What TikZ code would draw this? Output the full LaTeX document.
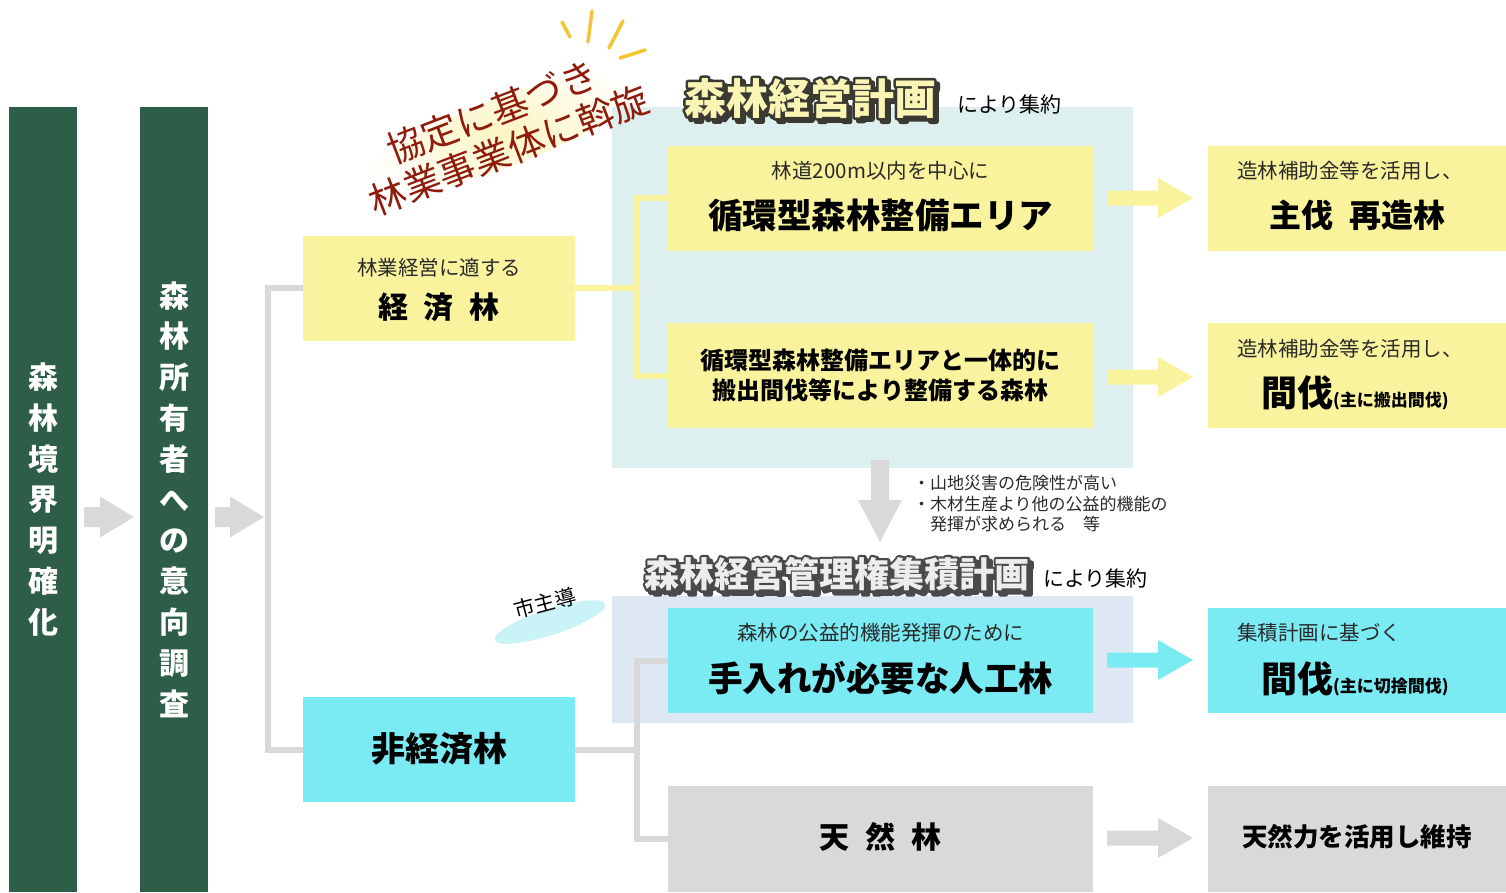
\documentclass[tikz,border=0pt]{standalone}
\usepackage{fontspec}
\setmainfont{Noto Sans CJK JP}
\usetikzlibrary{shapes.geometric}
\definecolor{dkgreen}{HTML}{2F5E48}
\definecolor{ylw}{HTML}{FAF39D}
\definecolor{cyn}{HTML}{7AEAF3}
\definecolor{gry}{HTML}{D9D9D9}
\definecolor{tealbg}{HTML}{DDEFEE}
\definecolor{bluebg}{HTML}{DEE8F4}
\definecolor{dred}{HTML}{8E1B0C}
\definecolor{spark}{HTML}{F5C431}
\definecolor{txt}{HTML}{2A2A2A}
\definecolor{glow}{HTML}{FBF5C2}
\definecolor{ellc}{HTML}{C9F3F7}
\definecolor{tfill}{HTML}{FAF5B5}
\definecolor{tline}{HTML}{3A3A32}
\definecolor{tfillb}{HTML}{EDEDED}
\definecolor{tlineb}{HTML}{4A4A4A}
\newcommand\fsz[1]{\fontsize{#1}{#1}\selectfont}
\newcommand\strk[2]{\special{pdf:literal direct 2 Tr #1 w 1 j}#2\special{pdf:literal direct 0 Tr 1 w 0 j}}
% block arrow: x0, yc, shaft end, tip, shaft half, head half, colour
\newcommand\harrow[7]{\fill[#7] (#1,#2-#5) -- (#3,#2-#5) -- (#3,#2-#6) -- (#4,#2) -- (#3,#2+#6) -- (#3,#2+#5) -- (#1,#2+#5) -- cycle;}
\newcommand\otitle[7]{%
 \node[font=\fsz{#3}\bfseries, text=#5] (#7s) at (#1+3.5,#2+3.5) {\strk{5}{#6}};%
 \node[font=\fsz{#3}\bfseries, text=#5] (#7o) at (#1,#2) {\strk{5}{#6}};%
 \node[font=\fsz{#3}\bfseries, text=#4] (#7) at (#1,#2) {#6};}
\begin{document}
\begin{tikzpicture}[x=1pt,y=-1pt, every node/.style={inner sep=0pt, outer sep=0pt},
 bar/.style={fill=dkgreen, minimum width=68, minimum height=785, text=white, font=\fontsize{30}{40.8}\selectfont\bfseries, align=center},
 lbox/.style={minimum width=272, minimum height=105},
 mbox/.style={minimum width=425, minimum height=105},
 rbox/.style={minimum width=298, minimum height=105},
 small/.style={text=txt, font=\fsz{20.5}},
 big/.style={text=black, font=\fsz{34.5}\bfseries},
 conn/.style={line width=6, line join=miter}]
\useasboundingbox (0,0) rectangle (1506,892);
% glow behind rotated text
\begin{scope}[shift={(505,132)}, rotate=21]
 \shade[inner color=glow, outer color=white] (0,0) ellipse [x radius=165, y radius=34];
\end{scope}
% background regions
\fill[tealbg] (612,107) rectangle (1133,468);
\fill[bluebg] (612,596) rectangle (1133,723);
% left bars
\node[bar] (bar1) at (43,499.5) {森\\林\\境\\界\\明\\確\\化};
\node[bar] (bar2) at (174,499.5) {森\\林\\所\\有\\者\\へ\\の\\意\\向\\調\\査};
\harrow{84}{517}{100}{134}{10}{20.5}{gry}
\harrow{215}{517}{230}{264}{10}{20.5}{gry}
% boxes
\node[lbox, fill=ylw] (keizai) at (439,288) {};
\node[lbox, fill=cyn] (hikeizai) at (439,749.5) {};
\node[mbox, fill=ylw] (junkan) at (880.5,198) {};
\node[mbox, fill=ylw] (ittai) at (880.5,375.5) {};
\node[mbox, fill=cyn] (teire) at (880.5,660.5) {};
\node[mbox, fill=gry, minimum height=106] (tennen) at (880.5,839) {};
\node[rbox, fill=ylw] (r1) at (1357,198) {};
\node[rbox, fill=ylw] (r2) at (1357,375.5) {};
\node[rbox, fill=cyn] (r3) at (1357,660.5) {};
\node[rbox, fill=gry, minimum height=106] (r4) at (1357,839) {};
% connectors
\coordinate (gj) at (268,517);
\draw[conn, draw=gry] (keizai.west) -| (gj) |- (hikeizai.west);
\coordinate (yj) at (637,288);
\draw[conn, draw=ylw] (keizai.east) -- (yj);
\draw[conn, draw=ylw] (junkan.west) -| (yj) |- (ittai.west);
\coordinate (cj) at (637,749.5);
\draw[conn, draw=gry] (hikeizai.east) -- (cj);
\draw[conn, draw=gry] (teire.west) -| (cj) |- (tennen.west);
% right arrows
\harrow{1107}{198}{1158}{1193}{7.5}{20}{ylw}
\harrow{1107}{377}{1158}{1193}{7.5}{20}{ylw}
\harrow{1107}{660}{1158}{1193}{7.5}{20}{cyn}
\harrow{1107}{838}{1158}{1193}{7.5}{20}{gry}
% down arrow
\fill[gry] (871,460) -- (889,460) -- (889,500) -- (902,500) -- (880,542) -- (858,500) -- (871,500) -- cycle;
% texts in boxes
\node[small] (keizaiS) at (439,268) {林業経営に適する};
\node[big, font=\fsz{30}\bfseries] (keizaiB) at (439,307) {経\hspace{16pt}済\hspace{16pt}林};
\node[big, font=\fsz{34}\bfseries] (hikeizaiB) at (439,749) {非経済林};
\node[small] (junkanS) at (880.5,171) {林道200m以内を中心に};
\node[big] (junkanB) at (880.5,215) {循環型森林整備エリア};
\node[big, font=\fontsize{24}{30}\selectfont\bfseries, align=center] (ittaiB) at (880.5,375) {循環型森林整備エリアと一体的に\\搬出間伐等により整備する森林};
\node[small] (teireS) at (880.5,633) {森林の公益的機能発揮のために};
\node[big] (teireB) at (880.5,678) {手入れが必要な人工林};
\node[big, font=\fsz{30}\bfseries] (tennenB) at (880.5,837) {天\hspace{16pt}然\hspace{16pt}林};
\node[small, anchor=west] (r1S) at (1237,171) {造林補助金等を活用し、};
\node[big, font=\fsz{32}\bfseries] (r1B) at (1357,215) {主伐\hspace{16pt}再造林};
\node[small, anchor=west] (r2S) at (1237,349) {造林補助金等を活用し、};
\node[anchor=base west] (r2B) at (1261,406) {{\fsz{36}\bfseries 間伐}{\fsz{17}\bfseries (主に搬出間伐)}};
\node[small, anchor=west] (r3S) at (1237,633) {集積計画に基づく};
\node[anchor=base west] (r3B) at (1261,692) {{\fsz{36}\bfseries 間伐}{\fsz{17}\bfseries (主に切捨間伐)}};
\node[big, font=\fsz{25.5}\bfseries] (r4B) at (1357,837) {天然力を活用し維持};
% titles
\otitle{810}{98}{42}{tfill}{tline}{森林経営計画}{title1}
\node[text=black, font=\fsz{21}, anchor=west] (title1b) at (957,105) {により集約};
\otitle{837}{574}{35}{tfillb}{tlineb}{森林経営管理権集積計画}{title2}
\node[text=black, font=\fsz{21}, anchor=west] (title2b) at (1043,579) {により集約};
% bullet text
\node[text=txt, font=\fontsize{17}{20.5}\selectfont, align=left, anchor=west] (bullets) at (913,504) {・山地災害の危険性が高い\\・木材生産より他の公益的機能の\\　発揮が求められる　等};
% 市主導
\node[ellipse, fill=ellc, minimum width=116, minimum height=26, rotate=18] (shiell) at (550,622) {};
\node[text=black, font=\fsz{21}, rotate=15] (shi) at (545,603) {市主導};
% rotated red text
\node[rotate=21, text=dred, font=\fsz{37}] (kyo1) at (492,112) {協定に基づき};
\node[rotate=21, text=dred, font=\fsz{37}] (kyo2) at (509,150) {林業事業体に斡旋};
% sparkles
\draw[spark, line width=3.5, line cap=round] (562,22) -- (570,37);
\draw[spark, line width=3.5, line cap=round] (592,11) -- (588,42);
\draw[spark, line width=3.5, line cap=round] (623,21) -- (609,48);
\draw[spark, line width=3.5, line cap=round] (645,50) -- (620,58);
\end{tikzpicture}
\end{document}
